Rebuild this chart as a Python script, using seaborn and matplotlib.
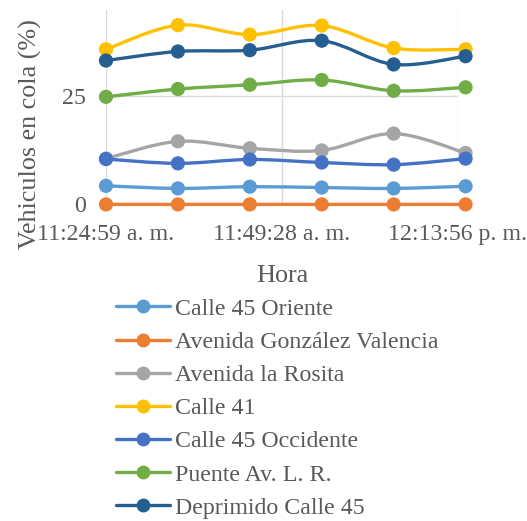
import numpy as np
import pandas as pd
import matplotlib
matplotlib.use("Agg")
import matplotlib.pyplot as plt
from matplotlib.path import Path
from matplotlib.patches import PathPatch
from matplotlib.lines import Line2D
import seaborn as sns

# Sample times (seconds after midnight) and queue percentages per approach
times_s = [41099, 41699, 42299, 42899, 43499, 44099]
calle45_oriente = [4.3, 3.7, 4.1, 3.9, 3.7, 4.2]
gonzalez_valencia = [0, 0, 0, 0, 0, 0]
la_rosita = [10.6, 14.6, 13.0, 12.5, 16.4, 11.9]
calle41 = [35.9, 41.5, 39.3, 41.4, 36.2, 35.9]
calle45_occidente = [10.5, 9.5, 10.4, 9.7, 9.2, 10.6]
puente_avlr = [24.9, 26.7, 27.7, 28.8, 26.3, 27.1]
deprimido_calle45 = [33.3, 35.4, 35.7, 37.9, 32.4, 34.3]

series_names = ["Calle 45 Oriente", "Avenida González Valencia", "Avenida la Rosita",
                "Calle 41", "Calle 45 Occidente", "Puente Av. L. R.", "Deprimido Calle 45"]
series_values = [calle45_oriente, gonzalez_valencia, la_rosita, calle41,
                 calle45_occidente, puente_avlr, deprimido_calle45]
colors = ["#5B9BD5", "#ED7D31", "#A5A5A5", "#FFC000", "#4472C4", "#70AD47", "#255E91"]

tick_times = [41099, 42568, 44036]
tick_labels = ["11:24:59 a. m.", "11:49:28 a. m.", "12:13:56 p. m."]
y_ticks = [0, 25]

df = pd.DataFrame({
    "Hora": np.tile(times_s, len(series_names)),
    "valor": np.concatenate(series_values),
    "serie": np.repeat(series_names, len(times_s)),
})

text_color = "#595959"
grid_color = "#D9D9D9"
font = "Liberation Serif"
fs_ticks = 17.2
fs_title = 18.8

sns.set_theme(style="white")
plt.rcParams["font.family"] = [font, "DejaVu Serif"]

fig = plt.figure(figsize=(5.27, 5.21), dpi=100)
ax = fig.add_axes([106 / 527, 1 - 204.4 / 521, (458 - 106) / 527, (204.4 - 10) / 521])


def smooth_path(xs, ys):
    """Cubic Bezier path through the points (Catmull-Rom style smoothing)."""
    pts = np.column_stack([xs, ys]).astype(float)
    n = len(pts)
    verts = [pts[0]]
    codes = [Path.MOVETO]
    for i in range(n - 1):
        p0 = pts[i - 1] if i > 0 else pts[i]
        p1 = pts[i]
        p2 = pts[i + 1]
        p3 = pts[i + 2] if i + 2 < n else pts[i + 1]
        c1 = p1 + (p2 - p0) / 6.0
        c2 = p2 - (p3 - p1) / 6.0
        verts += [c1, c2, p2]
        codes += [Path.CURVE4] * 3
    return Path(verts, codes)


z = 3
for name, color in zip(series_names, colors):
    sub = df[df["serie"] == name]
    patch = PathPatch(smooth_path(sub["Hora"], sub["valor"]), facecolor="none",
                      edgecolor=color, lw=2.4, capstyle="round", joinstyle="round",
                      zorder=z, clip_on=False)
    ax.add_patch(patch)
    sns.scatterplot(data=sub, x="Hora", y="valor", color=color, s=105,
                    edgecolor="none", linewidth=0, ax=ax, zorder=z + 0.5,
                    clip_on=False, legend=False)
    z += 1

ax.set_xlim(tick_times[0], tick_times[-1])
ax.set_ylim(0, 45)
ax.set_xticks(tick_times)
ax.set_xticklabels(tick_labels)
ax.set_yticks(y_ticks)
ax.set_yticklabels([str(v) for v in y_ticks])
ax.tick_params(axis="both", length=0, labelsize=fs_ticks, colors=text_color)
ax.tick_params(axis="x", pad=14)
ax.tick_params(axis="y", pad=14.4)
ax.grid(True, color=grid_color, lw=1.0)
ax.set_axisbelow(True)
for sp in ax.spines.values():
    sp.set_visible(False)

ax.set_xlabel("Hora", fontsize=fs_title, color=text_color)
ax.set_ylabel("Vehiculos en cola (%)", fontsize=fs_title, color=text_color)
ax.xaxis.set_label_coords(0.5, -0.31)
ax.yaxis.set_label_coords(-0.183, 0.36)

handles = [Line2D([0], [0], color=c, lw=2.4, marker="o", markersize=10,
                  markeredgewidth=0) for c in colors]
leg = fig.legend(handles, series_names, loc="upper left",
                 bbox_to_anchor=(116 / 527, 1 - 298 / 521), frameon=False,
                 fontsize=fs_ticks, handlelength=2.26, handletextpad=0.21,
                 labelspacing=0.48, borderpad=0, borderaxespad=0)
for t in leg.get_texts():
    t.set_color(text_color)

fig.savefig("out.png", dpi=100)
